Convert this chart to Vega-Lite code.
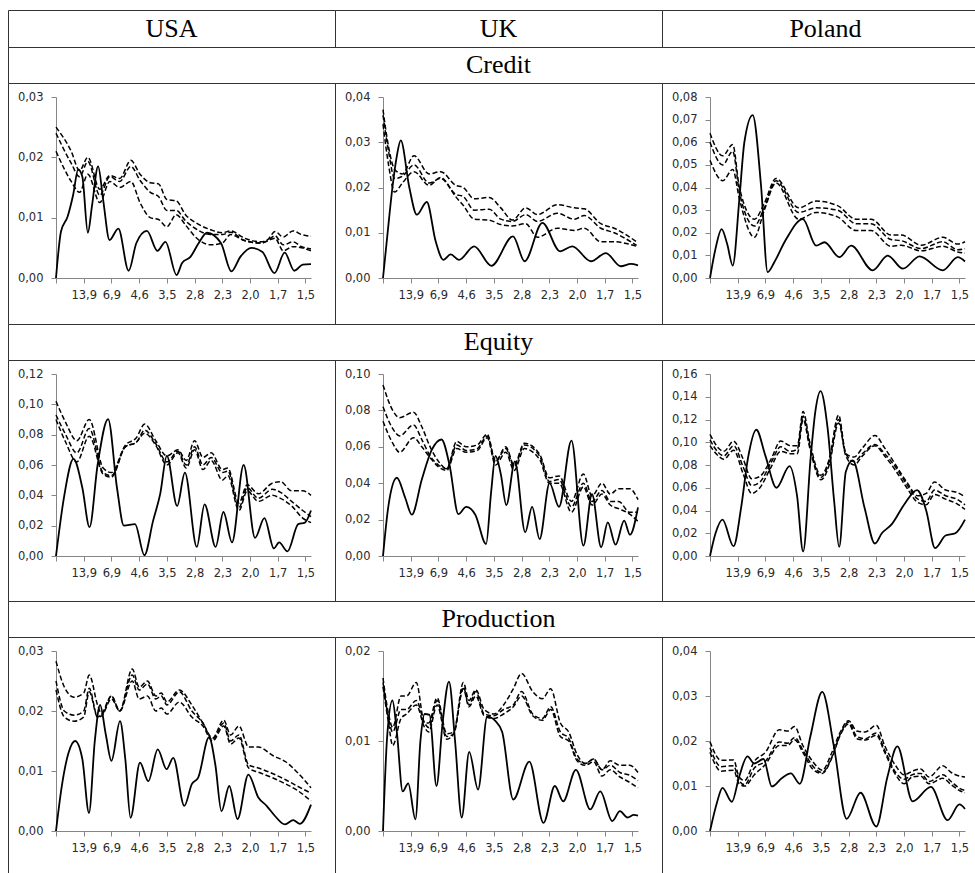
{
"$schema":"https://vega.github.io/schema/vega-lite/v6.json",
"padding":{"left":7,"top":9,"right":0,"bottom":0},
"background":"white",
"columns":3,
"spacing":0,
"bounds":"flush",
"config":{
"view":{"stroke":"#333333","strokeWidth":1},
"axis":{"grid":false,"title":null,"domainColor":"#868686","tickColor":"#868686","tickSize":5,"labelFont":"DejaVu Sans","labelFontSize":11.5,"labelColor":"#2a2a2a","labelOverlap":false,"labelFlush":false,"tickCount":30},
"axisX":{"labelPadding":6},
"axisY":{"labelPadding":8},
"scale":{"bandPaddingInner":0,"bandPaddingOuter":0},
"text":{"font":"Liberation Serif","fontSize":26,"color":"#000","baseline":"middle"}
},
"datasets":{
"uc_m":[{"x":0,"y":0},{"x":0.18,"y":0.0077},{"x":0.42,"y":0.0102},{"x":0.62,"y":0.0138},{"x":0.8,"y":0.018},{"x":0.95,"y":0.0168},{"x":1.15,"y":0.0075},{"x":1.3,"y":0.012},{"x":1.52,"y":0.0185},{"x":1.7,"y":0.013},{"x":1.93,"y":0.0063},{"x":2.25,"y":0.0082},{"x":2.62,"y":0.0012},{"x":2.9,"y":0.0058},{"x":3.28,"y":0.0078},{"x":3.66,"y":0.0045},{"x":3.95,"y":0.006},{"x":4.35,"y":0.0005},{"x":4.55,"y":0.0025},{"x":4.85,"y":0.0035},{"x":5.15,"y":0.0058},{"x":5.45,"y":0.0075},{"x":5.95,"y":0.0058},{"x":6.33,"y":0.0011},{"x":6.65,"y":0.0035},{"x":7.05,"y":0.005},{"x":7.45,"y":0.0043},{"x":7.88,"y":0.0008},{"x":8.25,"y":0.0042},{"x":8.6,"y":0.0012},{"x":8.9,"y":0.0022},{"x":9.2,"y":0.0023}],
"uc_d":[{"x":0,"a":0.025,"b":0.024,"c":0.021},{"x":0.55,"a":0.021,"b":0.019,"c":0.016},{"x":0.85,"a":0.0178,"b":0.0168,"c":0.0142},{"x":1.15,"a":0.02,"b":0.0193,"c":0.0172},{"x":1.58,"a":0.0147,"b":0.0137,"c":0.0125},{"x":1.94,"a":0.017,"b":0.0168,"c":0.016},{"x":2.3,"a":0.0165,"b":0.016,"c":0.015},{"x":2.7,"a":0.0195,"b":0.0185,"c":0.016},{"x":3.03,"a":0.0172,"b":0.0162,"c":0.0125},{"x":3.4,"a":0.0158,"b":0.0142,"c":0.01},{"x":3.7,"a":0.0156,"b":0.0135,"c":0.0097},{"x":4.0,"a":0.013,"b":0.0112,"c":0.0085},{"x":4.34,"a":0.0128,"b":0.0112,"c":0.0105},{"x":4.67,"a":0.0105,"b":0.0095,"c":0.0088},{"x":5.1,"a":0.009,"b":0.008,"c":0.0065},{"x":5.58,"a":0.008,"b":0.0072,"c":0.0055},{"x":6.0,"a":0.0075,"b":0.0072,"c":0.0058},{"x":6.3,"a":0.0078,"b":0.0076,"c":0.0072},{"x":6.8,"a":0.0066,"b":0.0062,"c":0.0062},{"x":7.4,"a":0.006,"b":0.0058,"c":0.0058},{"x":7.65,"a":0.0064,"b":0.0062,"c":0.0062},{"x":7.9,"a":0.0077,"b":0.007,"c":0.0066},{"x":8.2,"a":0.0068,"b":0.0055,"c":0.0045},{"x":8.55,"a":0.0078,"b":0.006,"c":0.0052},{"x":8.86,"a":0.0072,"b":0.0052,"c":0.005},{"x":9.2,"a":0.0069,"b":0.0048,"c":0.0045}],
"kc_m":[{"x":0,"y":0},{"x":0.16,"y":0.0096},{"x":0.34,"y":0.02},{"x":0.5,"y":0.027},{"x":0.64,"y":0.0304},{"x":0.95,"y":0.02},{"x":1.22,"y":0.014},{"x":1.58,"y":0.0168},{"x":1.9,"y":0.0081},{"x":2.18,"y":0.004},{"x":2.44,"y":0.0052},{"x":2.74,"y":0.004},{"x":3.29,"y":0.007},{"x":3.91,"y":0.0027},{"x":4.69,"y":0.0092},{"x":5.11,"y":0.0037},{"x":5.75,"y":0.0122},{"x":6.39,"y":0.0059},{"x":6.83,"y":0.007},{"x":7.5,"y":0.0037},{"x":8.04,"y":0.0055},{"x":8.58,"y":0.0026},{"x":8.94,"y":0.0031},{"x":9.2,"y":0.0028}],
"kc_d":[{"x":0,"a":0.0372,"b":0.036,"c":0.034},{"x":0.2,"a":0.029,"b":0.028,"c":0.025},{"x":0.42,"a":0.024,"b":0.022,"c":0.019},{"x":0.7,"a":0.023,"b":0.0225,"c":0.021},{"x":1.12,"a":0.027,"b":0.025,"c":0.0235},{"x":1.66,"a":0.023,"b":0.021,"c":0.0205},{"x":2.08,"a":0.0235,"b":0.022,"c":0.0222},{"x":2.62,"a":0.0205,"b":0.0185,"c":0.018},{"x":2.9,"a":0.02,"b":0.018,"c":0.016},{"x":3.29,"a":0.0175,"b":0.015,"c":0.013},{"x":3.83,"a":0.0178,"b":0.0152,"c":0.0128},{"x":4.25,"a":0.0155,"b":0.013,"c":0.0118},{"x":4.67,"a":0.0128,"b":0.0125,"c":0.0115},{"x":5.15,"a":0.0155,"b":0.014,"c":0.012},{"x":5.57,"a":0.014,"b":0.0125,"c":0.009},{"x":6.29,"a":0.0162,"b":0.0143,"c":0.011},{"x":6.9,"a":0.0155,"b":0.013,"c":0.0105},{"x":7.26,"a":0.0153,"b":0.0138,"c":0.011},{"x":7.86,"a":0.012,"b":0.011,"c":0.008},{"x":8.34,"a":0.011,"b":0.01,"c":0.008},{"x":9.15,"a":0.008,"b":0.0072,"c":0.007}],
"pc_m":[{"x":0,"y":0},{"x":0.2,"y":0.013},{"x":0.42,"y":0.0216},{"x":0.62,"y":0.015},{"x":0.82,"y":0.0055},{"x":1.06,"y":0.035},{"x":1.24,"y":0.06},{"x":1.54,"y":0.072},{"x":1.84,"y":0.041},{"x":2.08,"y":0.0026},{"x":2.32,"y":0.007},{"x":2.74,"y":0.017},{"x":3.35,"y":0.026},{"x":3.83,"y":0.0143},{"x":4.13,"y":0.0158},{"x":4.67,"y":0.0092},{"x":5.09,"y":0.0143},{"x":5.87,"y":0.0034},{"x":6.41,"y":0.0099},{"x":6.96,"y":0.0041},{"x":7.56,"y":0.0096},{"x":8.4,"y":0.0034},{"x":8.94,"y":0.0092},{"x":9.2,"y":0.0073}],
"pc_d":[{"x":0,"a":0.064,"b":0.06,"c":0.052},{"x":0.46,"a":0.054,"b":0.05,"c":0.043},{"x":0.82,"a":0.059,"b":0.056,"c":0.048},{"x":1.06,"a":0.04,"b":0.038,"c":0.035},{"x":1.6,"a":0.026,"b":0.023,"c":0.018},{"x":1.96,"a":0.033,"b":0.031,"c":0.03},{"x":2.38,"a":0.044,"b":0.043,"c":0.042},{"x":3.2,"a":0.031,"b":0.029,"c":0.026},{"x":3.83,"a":0.034,"b":0.031,"c":0.029},{"x":4.6,"a":0.032,"b":0.03,"c":0.027},{"x":5.27,"a":0.026,"b":0.024,"c":0.021},{"x":5.81,"a":0.026,"b":0.024,"c":0.021},{"x":6.53,"a":0.019,"b":0.017,"c":0.014},{"x":6.9,"a":0.019,"b":0.0165,"c":0.0145},{"x":7.62,"a":0.0145,"b":0.013,"c":0.012},{"x":8.4,"a":0.018,"b":0.016,"c":0.014},{"x":8.94,"a":0.015,"b":0.0125,"c":0.0115},{"x":9.2,"a":0.016,"b":0.013,"c":0.011}],
"ue_m":[{"x":0,"y":0},{"x":0.3,"y":0.04},{"x":0.63,"y":0.064},{"x":0.95,"y":0.045},{"x":1.21,"y":0.019},{"x":1.5,"y":0.06},{"x":1.88,"y":0.0903},{"x":2.2,"y":0.045},{"x":2.45,"y":0.02},{"x":2.85,"y":0.021},{"x":3.19,"y":0.0005},{"x":3.5,"y":0.023},{"x":3.76,"y":0.041},{"x":4.0,"y":0.066},{"x":4.37,"y":0.033},{"x":4.65,"y":0.055},{"x":5.08,"y":0.006},{"x":5.36,"y":0.034},{"x":5.76,"y":0.006},{"x":6.04,"y":0.029},{"x":6.35,"y":0.009},{"x":6.77,"y":0.06},{"x":7.18,"y":0.012},{"x":7.52,"y":0.025},{"x":7.86,"y":0.005},{"x":8.05,"y":0.009},{"x":8.35,"y":0.003},{"x":8.74,"y":0.021},{"x":8.98,"y":0.022},{"x":9.2,"y":0.03}],
"ue_d":[{"x":0,"a":0.102,"b":0.093,"c":0.09},{"x":0.35,"a":0.088,"b":0.08,"c":0.075},{"x":0.75,"a":0.076,"b":0.068,"c":0.062},{"x":1.2,"a":0.09,"b":0.084,"c":0.079},{"x":1.7,"a":0.058,"b":0.055,"c":0.054},{"x":2.0,"a":0.055,"b":0.053,"c":0.052},{"x":2.5,"a":0.073,"b":0.072,"c":0.072},{"x":2.9,"a":0.078,"b":0.075,"c":0.075},{"x":3.2,"a":0.087,"b":0.083,"c":0.081},{"x":3.6,"a":0.076,"b":0.074,"c":0.073},{"x":4.0,"a":0.066,"b":0.062,"c":0.06},{"x":4.4,"a":0.07,"b":0.069,"c":0.068},{"x":4.7,"a":0.063,"b":0.06,"c":0.058},{"x":5.0,"a":0.076,"b":0.072,"c":0.07},{"x":5.3,"a":0.065,"b":0.06,"c":0.057},{"x":5.6,"a":0.068,"b":0.065,"c":0.063},{"x":6.0,"a":0.057,"b":0.055,"c":0.05},{"x":6.2,"a":0.058,"b":0.056,"c":0.053},{"x":6.6,"a":0.035,"b":0.032,"c":0.03},{"x":6.9,"a":0.047,"b":0.045,"c":0.043},{"x":7.3,"a":0.041,"b":0.038,"c":0.036},{"x":7.8,"a":0.048,"b":0.044,"c":0.04},{"x":8.1,"a":0.049,"b":0.042,"c":0.038},{"x":8.5,"a":0.043,"b":0.036,"c":0.033},{"x":8.9,"a":0.043,"b":0.03,"c":0.025},{"x":9.2,"a":0.04,"b":0.026,"c":0.022}],
"ke_m":[{"x":0,"y":0},{"x":0.2,"y":0.028},{"x":0.5,"y":0.043},{"x":0.8,"y":0.032},{"x":1.04,"y":0.0227},{"x":1.4,"y":0.042},{"x":1.75,"y":0.058},{"x":2.11,"y":0.064},{"x":2.4,"y":0.05},{"x":2.72,"y":0.023},{"x":3.0,"y":0.027},{"x":3.33,"y":0.0227},{"x":3.72,"y":0.0066},{"x":3.9,"y":0.035},{"x":4.06,"y":0.055},{"x":4.25,"y":0.045},{"x":4.45,"y":0.028},{"x":4.76,"y":0.052},{"x":5.13,"y":0.013},{"x":5.38,"y":0.027},{"x":5.65,"y":0.0093},{"x":6.01,"y":0.04},{"x":6.35,"y":0.027},{"x":6.8,"y":0.0634},{"x":7.23,"y":0.0057},{"x":7.54,"y":0.034},{"x":7.87,"y":0.0048},{"x":8.11,"y":0.0185},{"x":8.39,"y":0.0062},{"x":8.7,"y":0.0194},{"x":8.91,"y":0.0117},{"x":9.2,"y":0.0267}],
"ke_d":[{"x":0,"a":0.094,"b":0.082,"c":0.074},{"x":0.35,"a":0.08,"b":0.07,"c":0.062},{"x":0.6,"a":0.076,"b":0.066,"c":0.057},{"x":1.1,"a":0.079,"b":0.072,"c":0.065},{"x":1.4,"a":0.071,"b":0.064,"c":0.06},{"x":1.7,"a":0.06,"b":0.055,"c":0.054},{"x":2.0,"a":0.052,"b":0.05,"c":0.049},{"x":2.3,"a":0.048,"b":0.048,"c":0.047},{"x":2.66,"a":0.063,"b":0.061,"c":0.059},{"x":3.0,"a":0.06,"b":0.058,"c":0.057},{"x":3.4,"a":0.061,"b":0.059,"c":0.058},{"x":3.76,"a":0.067,"b":0.066,"c":0.065},{"x":4.06,"a":0.052,"b":0.052,"c":0.05},{"x":4.43,"a":0.06,"b":0.059,"c":0.057},{"x":4.73,"a":0.05,"b":0.049,"c":0.047},{"x":5.1,"a":0.062,"b":0.061,"c":0.059},{"x":5.65,"a":0.056,"b":0.055,"c":0.053},{"x":6.0,"a":0.043,"b":0.041,"c":0.04},{"x":6.35,"a":0.044,"b":0.042,"c":0.04},{"x":6.8,"a":0.03,"b":0.027,"c":0.024},{"x":7.23,"a":0.045,"b":0.04,"c":0.038},{"x":7.54,"a":0.033,"b":0.03,"c":0.028},{"x":7.9,"a":0.04,"b":0.036,"c":0.034},{"x":8.2,"a":0.034,"b":0.03,"c":0.028},{"x":8.5,"a":0.037,"b":0.03,"c":0.026},{"x":8.9,"a":0.037,"b":0.024,"c":0.023},{"x":9.2,"a":0.031,"b":0.024,"c":0.019}],
"pe_m":[{"x":0,"y":0},{"x":0.2,"y":0.02},{"x":0.45,"y":0.032},{"x":0.85,"y":0.0086},{"x":1.12,"y":0.042},{"x":1.37,"y":0.086},{"x":1.67,"y":0.111},{"x":2.0,"y":0.088},{"x":2.4,"y":0.06},{"x":2.87,"y":0.079},{"x":3.14,"y":0.053},{"x":3.36,"y":0.004},{"x":3.63,"y":0.086},{"x":3.8,"y":0.127},{"x":3.99,"y":0.145},{"x":4.24,"y":0.113},{"x":4.48,"y":0.048},{"x":4.66,"y":0.008},{"x":4.9,"y":0.074},{"x":5.15,"y":0.084},{"x":5.58,"y":0.042},{"x":5.95,"y":0.011},{"x":6.2,"y":0.02},{"x":6.56,"y":0.028},{"x":7.0,"y":0.045},{"x":7.47,"y":0.058},{"x":7.8,"y":0.04},{"x":8.12,"y":0.007},{"x":8.5,"y":0.018},{"x":8.85,"y":0.02},{"x":9.2,"y":0.032}],
"pe_d":[{"x":0,"a":0.107,"b":0.102,"c":0.097},{"x":0.3,"a":0.095,"b":0.091,"c":0.088},{"x":0.5,"a":0.092,"b":0.088,"c":0.085},{"x":0.85,"a":0.101,"b":0.097,"c":0.093},{"x":1.2,"a":0.085,"b":0.078,"c":0.072},{"x":1.5,"a":0.068,"b":0.062,"c":0.055},{"x":1.8,"a":0.07,"b":0.065,"c":0.06},{"x":2.2,"a":0.085,"b":0.082,"c":0.078},{"x":2.55,"a":0.101,"b":0.096,"c":0.092},{"x":2.9,"a":0.097,"b":0.092,"c":0.09},{"x":3.15,"a":0.097,"b":0.094,"c":0.09},{"x":3.36,"a":0.127,"b":0.123,"c":0.12},{"x":3.6,"a":0.1,"b":0.097,"c":0.095},{"x":4.0,"a":0.071,"b":0.069,"c":0.067},{"x":4.3,"a":0.085,"b":0.083,"c":0.08},{"x":4.64,"a":0.124,"b":0.12,"c":0.117},{"x":4.9,"a":0.09,"b":0.09,"c":0.088},{"x":5.2,"a":0.087,"b":0.083,"c":0.08},{"x":5.5,"a":0.095,"b":0.09,"c":0.088},{"x":5.95,"a":0.106,"b":0.098,"c":0.097},{"x":6.3,"a":0.095,"b":0.09,"c":0.088},{"x":6.7,"a":0.08,"b":0.078,"c":0.075},{"x":7.1,"a":0.065,"b":0.063,"c":0.06},{"x":7.5,"a":0.053,"b":0.05,"c":0.047},{"x":7.8,"a":0.055,"b":0.048,"c":0.045},{"x":8.1,"a":0.065,"b":0.058,"c":0.054},{"x":8.5,"a":0.058,"b":0.053,"c":0.05},{"x":8.9,"a":0.056,"b":0.05,"c":0.046},{"x":9.2,"a":0.052,"b":0.045,"c":0.041}],
"up_m":[{"x":0,"y":0},{"x":0.2,"y":0.0072},{"x":0.45,"y":0.013},{"x":0.69,"y":0.015},{"x":0.95,"y":0.012},{"x":1.19,"y":0.003},{"x":1.4,"y":0.015},{"x":1.59,"y":0.021},{"x":1.8,"y":0.016},{"x":2.0,"y":0.0117},{"x":2.31,"y":0.0183},{"x":2.5,"y":0.012},{"x":2.69,"y":0.0022},{"x":3.03,"y":0.0114},{"x":3.33,"y":0.0083},{"x":3.67,"y":0.0136},{"x":3.99,"y":0.0103},{"x":4.23,"y":0.0122},{"x":4.63,"y":0.0042},{"x":4.9,"y":0.0078},{"x":5.13,"y":0.0089},{"x":5.52,"y":0.0156},{"x":5.75,"y":0.011},{"x":5.97,"y":0.0033},{"x":6.25,"y":0.0075},{"x":6.55,"y":0.002},{"x":6.94,"y":0.0094},{"x":7.3,"y":0.0056},{"x":7.6,"y":0.0042},{"x":7.9,"y":0.0025},{"x":8.26,"y":0.0011},{"x":8.56,"y":0.0018},{"x":8.8,"y":0.0012},{"x":9.2,"y":0.0044}],
"up_d":[{"x":0,"a":0.0283,"b":0.025,"c":0.0235},{"x":0.3,"a":0.024,"b":0.02,"c":0.019},{"x":0.65,"a":0.0223,"b":0.0193,"c":0.0183},{"x":1.0,"a":0.023,"b":0.02,"c":0.019},{"x":1.2,"a":0.026,"b":0.0238,"c":0.0232},{"x":1.5,"a":0.021,"b":0.019,"c":0.019},{"x":1.65,"a":0.0195,"b":0.0195,"c":0.0192},{"x":2.0,"a":0.0225,"b":0.0225,"c":0.022},{"x":2.3,"a":0.02,"b":0.02,"c":0.02},{"x":2.75,"a":0.027,"b":0.026,"c":0.025},{"x":3.0,"a":0.024,"b":0.0235,"c":0.022},{"x":3.3,"a":0.025,"b":0.0245,"c":0.0225},{"x":3.6,"a":0.0225,"b":0.022,"c":0.02},{"x":3.8,"a":0.023,"b":0.0225,"c":0.0205},{"x":4.0,"a":0.0215,"b":0.021,"c":0.0195},{"x":4.45,"a":0.0235,"b":0.0232,"c":0.0215},{"x":4.9,"a":0.021,"b":0.02,"c":0.019},{"x":5.3,"a":0.018,"b":0.018,"c":0.0175},{"x":5.65,"a":0.0155,"b":0.0152,"c":0.015},{"x":6.05,"a":0.0185,"b":0.018,"c":0.0175},{"x":6.3,"a":0.016,"b":0.015,"c":0.0145},{"x":6.6,"a":0.0175,"b":0.016,"c":0.0155},{"x":6.95,"a":0.014,"b":0.011,"c":0.0105},{"x":7.3,"a":0.014,"b":0.0105,"c":0.0098},{"x":7.85,"a":0.0125,"b":0.0095,"c":0.0088},{"x":8.3,"a":0.0115,"b":0.0085,"c":0.0078},{"x":8.7,"a":0.0098,"b":0.0075,"c":0.0068},{"x":9.2,"a":0.0072,"b":0.0063,"c":0.005}],
"kp_m":[{"x":0,"y":0},{"x":0.15,"y":0.0105},{"x":0.34,"y":0.0145},{"x":0.5,"y":0.011},{"x":0.71,"y":0.0044},{"x":0.91,"y":0.0053},{"x":1.17,"y":0.0013},{"x":1.35,"y":0.01},{"x":1.5,"y":0.013},{"x":1.68,"y":0.0129},{"x":1.93,"y":0.005},{"x":2.15,"y":0.012},{"x":2.38,"y":0.0166},{"x":2.6,"y":0.01},{"x":2.84,"y":0.0015},{"x":3.11,"y":0.0088},{"x":3.43,"y":0.0046},{"x":3.76,"y":0.0127},{"x":4.06,"y":0.0122},{"x":4.3,"y":0.011},{"x":4.7,"y":0.0035},{"x":5.28,"y":0.0077},{"x":5.79,"y":0.0009},{"x":6.2,"y":0.005},{"x":6.5,"y":0.0033},{"x":6.96,"y":0.0068},{"x":7.48,"y":0.0024},{"x":7.84,"y":0.0044},{"x":8.27,"y":0.0011},{"x":8.55,"y":0.0022},{"x":8.82,"y":0.0015},{"x":9.05,"y":0.0018},{"x":9.2,"y":0.0017}],
"kp_d":[{"x":0,"a":0.017,"b":0.0165,"c":0.016},{"x":0.2,"a":0.013,"b":0.0125,"c":0.012},{"x":0.35,"a":0.0115,"b":0.011,"c":0.0095},{"x":0.65,"a":0.015,"b":0.0135,"c":0.0125},{"x":0.85,"a":0.015,"b":0.0135,"c":0.013},{"x":1.2,"a":0.0165,"b":0.0145,"c":0.014},{"x":1.5,"a":0.012,"b":0.012,"c":0.0115},{"x":1.65,"a":0.012,"b":0.0115,"c":0.011},{"x":1.95,"a":0.0148,"b":0.0145,"c":0.014},{"x":2.3,"a":0.0108,"b":0.0105,"c":0.0102},{"x":2.55,"a":0.011,"b":0.0108,"c":0.0108},{"x":2.9,"a":0.0165,"b":0.016,"c":0.0158},{"x":3.1,"a":0.0145,"b":0.014,"c":0.0138},{"x":3.35,"a":0.0157,"b":0.0155,"c":0.015},{"x":3.65,"a":0.0135,"b":0.013,"c":0.0128},{"x":4.0,"a":0.013,"b":0.0128,"c":0.0125},{"x":4.35,"a":0.014,"b":0.0135,"c":0.013},{"x":4.7,"a":0.0158,"b":0.014,"c":0.0138},{"x":5.0,"a":0.0175,"b":0.0155,"c":0.015},{"x":5.4,"a":0.0155,"b":0.013,"c":0.0128},{"x":5.75,"a":0.0147,"b":0.0125,"c":0.0123},{"x":6.05,"a":0.0158,"b":0.0138,"c":0.0135},{"x":6.4,"a":0.012,"b":0.011,"c":0.0105},{"x":6.7,"a":0.011,"b":0.0103,"c":0.01},{"x":7.0,"a":0.0085,"b":0.008,"c":0.0078},{"x":7.3,"a":0.0075,"b":0.0075,"c":0.0073},{"x":7.6,"a":0.008,"b":0.008,"c":0.0077},{"x":7.9,"a":0.0068,"b":0.0068,"c":0.0061},{"x":8.2,"a":0.0078,"b":0.0073,"c":0.0068},{"x":8.55,"a":0.0073,"b":0.0065,"c":0.006},{"x":8.9,"a":0.0073,"b":0.0062,"c":0.0054},{"x":9.2,"a":0.0065,"b":0.0056,"c":0.0048}],
"pp_m":[{"x":0,"y":0},{"x":0.25,"y":0.0063},{"x":0.45,"y":0.0096},{"x":0.79,"y":0.0065},{"x":1.05,"y":0.012},{"x":1.35,"y":0.0166},{"x":1.6,"y":0.015},{"x":1.93,"y":0.016},{"x":2.23,"y":0.0099},{"x":2.6,"y":0.0118},{"x":2.92,"y":0.0128},{"x":3.24,"y":0.0105},{"x":3.62,"y":0.021},{"x":4.05,"y":0.0309},{"x":4.47,"y":0.0188},{"x":4.93,"y":0.0027},{"x":5.43,"y":0.0085},{"x":6.0,"y":0.001},{"x":6.4,"y":0.012},{"x":6.76,"y":0.0188},{"x":7.31,"y":0.0066},{"x":7.97,"y":0.0098},{"x":8.57,"y":0.0024},{"x":9.0,"y":0.0059},{"x":9.2,"y":0.0049}],
"pp_d":[{"x":0,"a":0.0198,"b":0.0185,"c":0.0175},{"x":0.4,"a":0.0157,"b":0.0143,"c":0.0133},{"x":0.85,"a":0.0158,"b":0.0145,"c":0.0135},{"x":1.05,"a":0.012,"b":0.0112,"c":0.0105},{"x":1.25,"a":0.0112,"b":0.0103,"c":0.01},{"x":1.6,"a":0.0155,"b":0.014,"c":0.0125},{"x":2.0,"a":0.0175,"b":0.0155,"c":0.0148},{"x":2.5,"a":0.0225,"b":0.0198,"c":0.019},{"x":2.8,"a":0.0222,"b":0.0195,"c":0.019},{"x":3.05,"a":0.0232,"b":0.0208,"c":0.0203},{"x":3.35,"a":0.019,"b":0.018,"c":0.0175},{"x":3.7,"a":0.0155,"b":0.0145,"c":0.0138},{"x":4.05,"a":0.0135,"b":0.013,"c":0.0128},{"x":4.4,"a":0.0175,"b":0.0165,"c":0.0163},{"x":4.7,"a":0.022,"b":0.0215,"c":0.0213},{"x":5.0,"a":0.0245,"b":0.0242,"c":0.0238},{"x":5.3,"a":0.0222,"b":0.021,"c":0.0205},{"x":5.6,"a":0.022,"b":0.0205,"c":0.0202},{"x":6.0,"a":0.0235,"b":0.0218,"c":0.0213},{"x":6.3,"a":0.019,"b":0.018,"c":0.0175},{"x":6.7,"a":0.0145,"b":0.013,"c":0.0125},{"x":7.0,"a":0.0125,"b":0.0115,"c":0.0105},{"x":7.3,"a":0.0133,"b":0.0125,"c":0.012},{"x":7.6,"a":0.0138,"b":0.0128,"c":0.0122},{"x":7.9,"a":0.012,"b":0.011,"c":0.0105},{"x":8.4,"a":0.0145,"b":0.0125,"c":0.0117},{"x":8.7,"a":0.013,"b":0.011,"c":0.0103},{"x":9.0,"a":0.0122,"b":0.0095,"c":0.009},{"x":9.2,"a":0.012,"b":0.009,"c":0.0085}]
},
"concat":[
{"width":327,"height":37,"data":{"values":[{"t":"USA"}]},"mark":{"type":"text"},"encoding":{"text":{"field":"t","type":"nominal"},"x":{"field":"t","type":"nominal","axis":null},"y":{"field":"t","type":"nominal","axis":null}}},
{"width":327,"height":37,"data":{"values":[{"t":"UK"}]},"mark":{"type":"text"},"encoding":{"text":{"field":"t","type":"nominal"},"x":{"field":"t","type":"nominal","axis":null},"y":{"field":"t","type":"nominal","axis":null}}},
{"width":327,"height":37,"data":{"values":[{"t":"Poland"}]},"mark":{"type":"text"},"encoding":{"text":{"field":"t","type":"nominal"},"x":{"field":"t","type":"nominal","axis":null},"y":{"field":"t","type":"nominal","axis":null}}},
{"width":327,"height":36,"view":{"strokeDash":[327,36,363]},"data":{"values":[{"t":""}]},"mark":{"type":"text"},"encoding":{"text":{"field":"t","type":"nominal"},"x":{"field":"t","type":"nominal","axis":null},"y":{"field":"t","type":"nominal","axis":null}}},
{"width":327,"height":36,"view":{"strokeDash":[327,36]},"data":{"values":[{"t":"Credit"}]},"mark":{"type":"text"},"encoding":{"text":{"field":"t","type":"nominal"},"x":{"field":"t","type":"nominal","axis":null},"y":{"field":"t","type":"nominal","axis":null}}},
{"width":327,"height":36,"view":{"strokeDash":[690,36]},"data":{"values":[{"t":""}]},"mark":{"type":"text"},"encoding":{"text":{"field":"t","type":"nominal"},"x":{"field":"t","type":"nominal","axis":null},"y":{"field":"t","type":"nominal","axis":null}}},
{"width":327,"height":241,"layer":[
{"data":{"name":"uc_d"},"transform":[{"fold":["a","b","c"]}],"mark":{"type":"line","interpolate":"monotone","color":"#000","strokeWidth":1.5,"strokeDash":[5,2.5]},"encoding":{"x":{"field":"x","type":"quantitative","scale":{"domain":[0,9.2],"range":[48,303],"nice":false},"axis":{"values":[0,1,2,3,4,5,6,7,8,9],"offset":-46,"labelExpr":"['','13,9','6,9','4,6','3,5','2,8','2,3','2,0','1,7','1,5'][datum.value]"}},"y":{"field":"value","type":"quantitative","scale":{"domain":[0,0.03],"range":[195,14],"nice":false},"axis":{"values":[0,0.01,0.02,0.03],"offset":-48,"labelExpr":"replace(format(datum.value,'.2f'),'.',',')"}},"detail":{"field":"key"}}},
{"data":{"name":"uc_m"},"mark":{"type":"line","interpolate":"monotone","color":"#000","strokeWidth":1.8},"encoding":{"x":{"field":"x","type":"quantitative"},"y":{"field":"y","type":"quantitative"}}}
]},
{"width":327,"height":241,"layer":[
{"data":{"name":"kc_d"},"transform":[{"fold":["a","b","c"]}],"mark":{"type":"line","interpolate":"monotone","color":"#000","strokeWidth":1.5,"strokeDash":[5,2.5]},"encoding":{"x":{"field":"x","type":"quantitative","scale":{"domain":[0,9.2],"range":[48,303],"nice":false},"axis":{"values":[0,1,2,3,4,5,6,7,8,9],"offset":-46,"labelExpr":"['','13,9','6,9','4,6','3,5','2,8','2,3','2,0','1,7','1,5'][datum.value]"}},"y":{"field":"value","type":"quantitative","scale":{"domain":[0,0.04],"range":[195,14],"nice":false},"axis":{"values":[0,0.01,0.02,0.03,0.04],"offset":-48,"labelExpr":"replace(format(datum.value,'.2f'),'.',',')"}},"detail":{"field":"key"}}},
{"data":{"name":"kc_m"},"mark":{"type":"line","interpolate":"monotone","color":"#000","strokeWidth":1.8},"encoding":{"x":{"field":"x","type":"quantitative"},"y":{"field":"y","type":"quantitative"}}}
]},
{"width":327,"height":241,"layer":[
{"data":{"name":"pc_d"},"transform":[{"fold":["a","b","c"]}],"mark":{"type":"line","interpolate":"monotone","color":"#000","strokeWidth":1.5,"strokeDash":[5,2.5]},"encoding":{"x":{"field":"x","type":"quantitative","scale":{"domain":[0,9.2],"range":[48,303],"nice":false},"axis":{"values":[0,1,2,3,4,5,6,7,8,9],"offset":-46,"labelExpr":"['','13,9','6,9','4,6','3,5','2,8','2,3','2,0','1,7','1,5'][datum.value]"}},"y":{"field":"value","type":"quantitative","scale":{"domain":[0,0.08],"range":[195,14],"nice":false},"axis":{"values":[0,0.01,0.02,0.03,0.04,0.05,0.06,0.07,0.08],"offset":-48,"labelExpr":"replace(format(datum.value,'.2f'),'.',',')"}},"detail":{"field":"key"}}},
{"data":{"name":"pc_m"},"mark":{"type":"line","interpolate":"monotone","color":"#000","strokeWidth":1.8},"encoding":{"x":{"field":"x","type":"quantitative"},"y":{"field":"y","type":"quantitative"}}}
]},
{"width":327,"height":36,"view":{"strokeDash":[327,36,363]},"data":{"values":[{"t":""}]},"mark":{"type":"text"},"encoding":{"text":{"field":"t","type":"nominal"},"x":{"field":"t","type":"nominal","axis":null},"y":{"field":"t","type":"nominal","axis":null}}},
{"width":327,"height":36,"view":{"strokeDash":[327,36]},"data":{"values":[{"t":"Equity"}]},"mark":{"type":"text"},"encoding":{"text":{"field":"t","type":"nominal"},"x":{"field":"t","type":"nominal","axis":null},"y":{"field":"t","type":"nominal","axis":null}}},
{"width":327,"height":36,"view":{"strokeDash":[690,36]},"data":{"values":[{"t":""}]},"mark":{"type":"text"},"encoding":{"text":{"field":"t","type":"nominal"},"x":{"field":"t","type":"nominal","axis":null},"y":{"field":"t","type":"nominal","axis":null}}},
{"width":327,"height":241,"layer":[
{"data":{"name":"ue_d"},"transform":[{"fold":["a","b","c"]}],"mark":{"type":"line","interpolate":"monotone","color":"#000","strokeWidth":1.5,"strokeDash":[5,2.5]},"encoding":{"x":{"field":"x","type":"quantitative","scale":{"domain":[0,9.2],"range":[48,303],"nice":false},"axis":{"values":[0,1,2,3,4,5,6,7,8,9],"offset":-45,"labelExpr":"['','13,9','6,9','4,6','3,5','2,8','2,3','2,0','1,7','1,5'][datum.value]"}},"y":{"field":"value","type":"quantitative","scale":{"domain":[0,0.12],"range":[196,14],"nice":false},"axis":{"values":[0,0.02,0.04,0.06,0.08,0.1,0.12],"offset":-48,"labelExpr":"replace(format(datum.value,'.2f'),'.',',')"}},"detail":{"field":"key"}}},
{"data":{"name":"ue_m"},"mark":{"type":"line","interpolate":"monotone","color":"#000","strokeWidth":1.8},"encoding":{"x":{"field":"x","type":"quantitative"},"y":{"field":"y","type":"quantitative"}}}
]},
{"width":327,"height":241,"layer":[
{"data":{"name":"ke_d"},"transform":[{"fold":["a","b","c"]}],"mark":{"type":"line","interpolate":"monotone","color":"#000","strokeWidth":1.5,"strokeDash":[5,2.5]},"encoding":{"x":{"field":"x","type":"quantitative","scale":{"domain":[0,9.2],"range":[48,303],"nice":false},"axis":{"values":[0,1,2,3,4,5,6,7,8,9],"offset":-45,"labelExpr":"['','13,9','6,9','4,6','3,5','2,8','2,3','2,0','1,7','1,5'][datum.value]"}},"y":{"field":"value","type":"quantitative","scale":{"domain":[0,0.1],"range":[196,14],"nice":false},"axis":{"values":[0,0.02,0.04,0.06,0.08,0.1],"offset":-48,"labelExpr":"replace(format(datum.value,'.2f'),'.',',')"}},"detail":{"field":"key"}}},
{"data":{"name":"ke_m"},"mark":{"type":"line","interpolate":"monotone","color":"#000","strokeWidth":1.8},"encoding":{"x":{"field":"x","type":"quantitative"},"y":{"field":"y","type":"quantitative"}}}
]},
{"width":327,"height":241,"layer":[
{"data":{"name":"pe_d"},"transform":[{"fold":["a","b","c"]}],"mark":{"type":"line","interpolate":"monotone","color":"#000","strokeWidth":1.5,"strokeDash":[5,2.5]},"encoding":{"x":{"field":"x","type":"quantitative","scale":{"domain":[0,9.2],"range":[48,303],"nice":false},"axis":{"values":[0,1,2,3,4,5,6,7,8,9],"offset":-45,"labelExpr":"['','13,9','6,9','4,6','3,5','2,8','2,3','2,0','1,7','1,5'][datum.value]"}},"y":{"field":"value","type":"quantitative","scale":{"domain":[0,0.16],"range":[196,14],"nice":false},"axis":{"values":[0,0.02,0.04,0.06,0.08,0.1,0.12,0.14,0.16],"offset":-48,"labelExpr":"replace(format(datum.value,'.2f'),'.',',')"}},"detail":{"field":"key"}}},
{"data":{"name":"pe_m"},"mark":{"type":"line","interpolate":"monotone","color":"#000","strokeWidth":1.8},"encoding":{"x":{"field":"x","type":"quantitative"},"y":{"field":"y","type":"quantitative"}}}
]},
{"width":327,"height":36,"view":{"strokeDash":[327,36,363]},"data":{"values":[{"t":""}]},"mark":{"type":"text"},"encoding":{"text":{"field":"t","type":"nominal"},"x":{"field":"t","type":"nominal","axis":null},"y":{"field":"t","type":"nominal","axis":null}}},
{"width":327,"height":36,"view":{"strokeDash":[327,36]},"data":{"values":[{"t":"Production"}]},"mark":{"type":"text"},"encoding":{"text":{"field":"t","type":"nominal"},"x":{"field":"t","type":"nominal","axis":null},"y":{"field":"t","type":"nominal","axis":null}}},
{"width":327,"height":36,"view":{"strokeDash":[690,36]},"data":{"values":[{"t":""}]},"mark":{"type":"text"},"encoding":{"text":{"field":"t","type":"nominal"},"x":{"field":"t","type":"nominal","axis":null},"y":{"field":"t","type":"nominal","axis":null}}},
{"width":327,"height":241,"layer":[
{"data":{"name":"up_d"},"transform":[{"fold":["a","b","c"]}],"mark":{"type":"line","interpolate":"monotone","color":"#000","strokeWidth":1.5,"strokeDash":[5,2.5]},"encoding":{"x":{"field":"x","type":"quantitative","scale":{"domain":[0,9.2],"range":[48,303],"nice":false},"axis":{"values":[0,1,2,3,4,5,6,7,8,9],"offset":-47,"labelExpr":"['','13,9','6,9','4,6','3,5','2,8','2,3','2,0','1,7','1,5'][datum.value]"}},"y":{"field":"value","type":"quantitative","scale":{"domain":[0,0.03],"range":[194,14],"nice":false},"axis":{"values":[0,0.01,0.02,0.03],"offset":-48,"labelExpr":"replace(format(datum.value,'.2f'),'.',',')"}},"detail":{"field":"key"}}},
{"data":{"name":"up_m"},"mark":{"type":"line","interpolate":"monotone","color":"#000","strokeWidth":1.8},"encoding":{"x":{"field":"x","type":"quantitative"},"y":{"field":"y","type":"quantitative"}}}
]},
{"width":327,"height":241,"layer":[
{"data":{"name":"kp_d"},"transform":[{"fold":["a","b","c"]}],"mark":{"type":"line","interpolate":"monotone","color":"#000","strokeWidth":1.5,"strokeDash":[5,2.5]},"encoding":{"x":{"field":"x","type":"quantitative","scale":{"domain":[0,9.2],"range":[48,303],"nice":false},"axis":{"values":[0,1,2,3,4,5,6,7,8,9],"offset":-47,"labelExpr":"['','13,9','6,9','4,6','3,5','2,8','2,3','2,0','1,7','1,5'][datum.value]"}},"y":{"field":"value","type":"quantitative","scale":{"domain":[0,0.02],"range":[194,14],"nice":false},"axis":{"values":[0,0.01,0.02],"offset":-48,"labelExpr":"replace(format(datum.value,'.2f'),'.',',')"}},"detail":{"field":"key"}}},
{"data":{"name":"kp_m"},"mark":{"type":"line","interpolate":"monotone","color":"#000","strokeWidth":1.8},"encoding":{"x":{"field":"x","type":"quantitative"},"y":{"field":"y","type":"quantitative"}}}
]},
{"width":327,"height":241,"layer":[
{"data":{"name":"pp_d"},"transform":[{"fold":["a","b","c"]}],"mark":{"type":"line","interpolate":"monotone","color":"#000","strokeWidth":1.5,"strokeDash":[5,2.5]},"encoding":{"x":{"field":"x","type":"quantitative","scale":{"domain":[0,9.2],"range":[48,303],"nice":false},"axis":{"values":[0,1,2,3,4,5,6,7,8,9],"offset":-47,"labelExpr":"['','13,9','6,9','4,6','3,5','2,8','2,3','2,0','1,7','1,5'][datum.value]"}},"y":{"field":"value","type":"quantitative","scale":{"domain":[0,0.04],"range":[194,14],"nice":false},"axis":{"values":[0,0.01,0.02,0.03,0.04],"offset":-48,"labelExpr":"replace(format(datum.value,'.2f'),'.',',')"}},"detail":{"field":"key"}}},
{"data":{"name":"pp_m"},"mark":{"type":"line","interpolate":"monotone","color":"#000","strokeWidth":1.8},"encoding":{"x":{"field":"x","type":"quantitative"},"y":{"field":"y","type":"quantitative"}}}
]}
]
}
